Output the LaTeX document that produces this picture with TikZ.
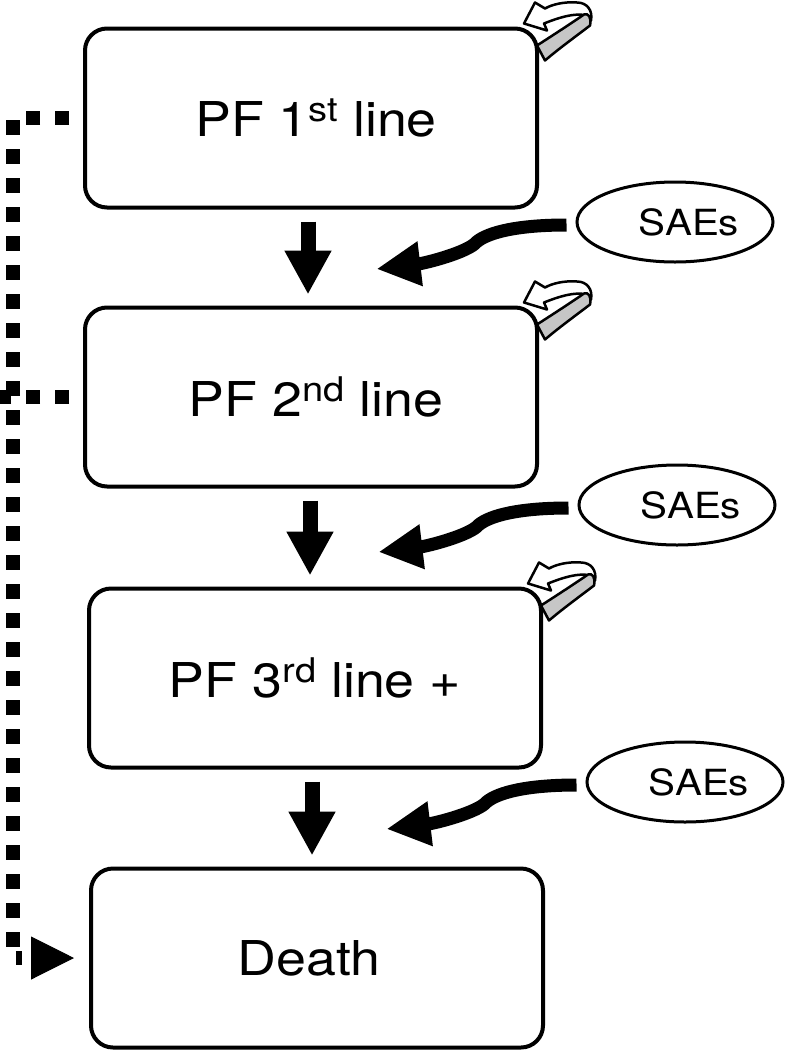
\documentclass[tikz,border=0pt]{standalone}
\usepackage{fontspec}
\setmainfont{TeX Gyre Heros}[FakeStretch=1.12]
\usetikzlibrary{arrows.meta,shapes.geometric}

\newcommand{\linesup}[1]{{\fontsize{34}{34}\selectfont\raisebox{15pt}{#1}}}

\tikzset{
  stage/.style={draw, line width=4pt, rounded corners=22pt,
    minimum width=452pt, minimum height=179pt,
    font=\fontsize{48}{52}\selectfont},
  sae/.style={draw, ellipse, line width=3pt,
    minimum width=196pt, minimum height=80pt,
    font=\fontsize{36}{40}\selectfont},
  nextline/.style={line width=15pt, -{Triangle[length=44pt,width=44pt]}},
  saeflow/.style={line width=13pt, -{Triangle[length=44pt,width=42pt]}},
  rail/.style={line width=14pt, dash pattern=on 14.5pt off 14.5pt},
  selfloop/.pic={
    \filldraw[fill=white, line width=2.5pt, line join=round]
      (6,-18) -- (-4,-24) -- (-15,-3) -- (8,4) -- (5,-3)
      .. controls (20,-9) and (36,-14) .. (47,-11) -- (52,-6)
      .. controls (54,-16) and (48,-24) .. (38,-24)
      .. controls (25,-25) and (13,-22) .. (6,-18) -- cycle;
    \filldraw[fill=gray!45, line width=2.5pt, line join=round]
      (-2,19) .. controls (15,8) and (32,-3) .. (45,-12)
      .. controls (49,-14) and (53,-9) .. (51,-1)
      .. controls (38,9) and (20,22) .. (6,34) -- cycle;
  }
}

\begin{document}
\begin{tikzpicture}[x=1pt, y=-1pt]
  \useasboundingbox (0,0) rectangle (789,1050);

  \node[stage] (pf1) at (311,118) {\hspace*{10pt}PF 1\linesup{st} line};
  \node[stage] (pf2) at (311,397) {\hspace*{10pt}PF 2\linesup{nd} line};
  \node[stage] (pf3) at (315,678) {PF 3\linesup{rd} line +};
  \node[stage] (death) at (317,958) {Death\hspace*{16pt}};

  \node[sae] (sae1) at (675,222) {\hspace*{28pt}SAEs};
  \node[sae] (sae2) at (677,505) {\hspace*{28pt}SAEs};
  \node[sae] (sae3) at (685,782) {\hspace*{28pt}SAEs};

  % next line of treatment
  \draw[nextline] ([xshift=-3pt, yshift=-12pt]pf1.south) -- ([xshift=-3pt, yshift=11pt]pf2.north);
  \draw[nextline] ([xshift=-1pt, yshift=-12pt]pf2.south) -- ([xshift=-5pt, yshift=11pt]pf3.north);
  \draw[nextline] ([xshift=-3pt, yshift=-12pt]pf3.south) -- ([xshift=-5pt, yshift=11pt]death.north);

  % serious adverse events
  \foreach \s in {sae1, sae2, sae3}
    \draw[saeflow] ([xshift=-9pt, yshift=-3pt]\s.west)
      .. controls +(-48,0) and +(12,-10) .. ++(-90,17)
      .. controls +(-8,10) and +(50,-6) .. ++(-100,27);

  % staying on the same line
  \foreach \b in {pf1, pf2, pf3}
    \pic at (\b.north east) {selfloop};

  % death from any line
  \coordinate (railx) at (13,0);
  \draw[rail] ([xshift=-14pt]pf1.west) -- (railx |- pf1.west)
    -- (railx |- death.west) -- ++(9,0);
  \draw[rail] ([xshift=-14pt]pf2.west) -- ++(-75,0);
  \draw[line width=1pt, -{Triangle[length=43pt,width=43pt]}] ([xshift=-58pt]death.west) -- ([xshift=-15pt]death.west);
\end{tikzpicture}
\end{document}
